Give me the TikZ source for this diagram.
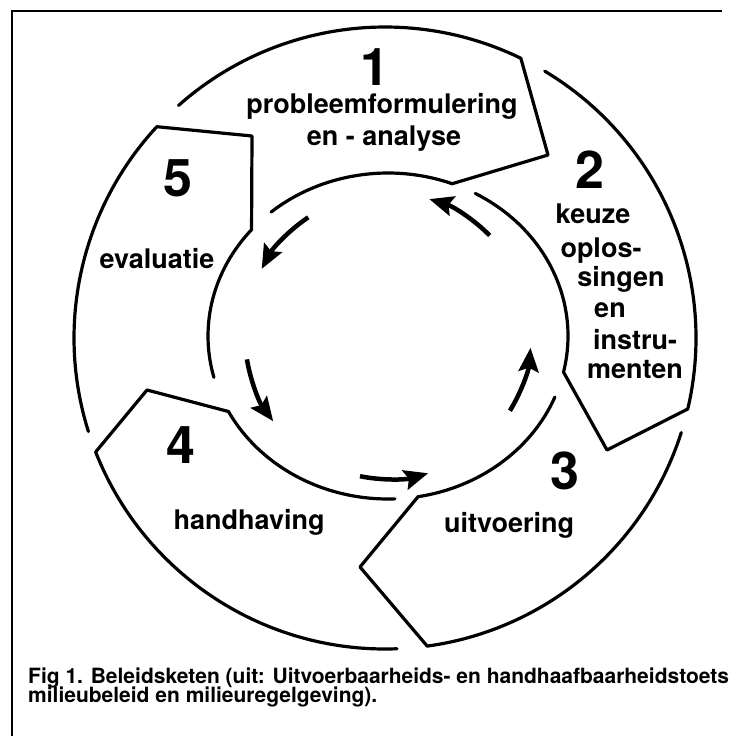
\documentclass[tikz,border=0pt]{standalone}
\usepackage{fontspec}
\setmainfont{TeX Gyre Heros}
\usetikzlibrary{arrows.meta}
\begin{document}
\begin{tikzpicture}[x=1pt,y=-1pt,
  seg/.style={line width=3.2pt,line join=round,line cap=round},
  flow/.style={line width=4.5pt,-{Stealth[length=24pt 0 0,width=20pt 0 0,inset=4pt 0]}},
  framer/.style={line width=2.2pt},
  lab/.style={font=\fontsize{27}{31}\selectfont\bfseries,anchor=base,inner sep=0pt},
  num/.style={font=\fontsize{52}{52}\selectfont\bfseries,anchor=base,inner sep=0pt},
  capt/.style={font=\fontsize{21}{19}\selectfont\bfseries,anchor=base west,inner sep=0pt}]
\useasboundingbox (0,0) rectangle (740,736);
\fill[white] (0,0) rectangle (740,736);
% frame
\draw[framer] (12,736) -- (12,11) -- (722,11);
% centres
\coordinate (O) at (385,338);
\coordinate (I) at (388,336);
% segment 1
\draw[seg] ([shift={(-131.6:311)}]O) arc[start angle=-131.6,end angle=-64.1,radius=311]
  -- (548,155) -- ([shift={(-69.1:180 and 163)}]I) arc[start angle=-69.1,end angle=-130.5,x radius=180,y radius=163];
% segment 2
\draw[seg] ([shift={(-59.1:311)}]O) arc[start angle=-59.1,end angle=13.2,radius=311]
  -- (607,450) -- ([shift={(12.8:180 and 163)}]I) arc[start angle=12.8,end angle=-61.0,x radius=180,y radius=163];
% segment 3
\draw[seg] ([shift={(17.7:311)}]O) arc[start angle=17.7,end angle=82.2,radius=311]
  -- (360,567) -- ([shift={(80.4:180 and 163)}]I) arc[start angle=80.4,end angle=22.0,x radius=180,y radius=163];
% segment 4
\draw[seg] ([shift={(87.8:311)}]O) arc[start angle=87.8,end angle=158.5,radius=311]
  -- (147,390) -- ([shift={(152.4:180 and 163)}]I) arc[start angle=152.4,end angle=87.8,x radius=180,y radius=163];
% segment 5
\draw[seg] ([shift={(162.5:311)}]O) arc[start angle=162.5,end angle=222.8,radius=311]
  -- (252,136) -- ([shift={(220.7:180 and 163)}]I) arc[start angle=220.7,end angle=165.3,x radius=180,y radius=163];
% inner arrows
\coordinate (a1) at ([shift={(-44.7:143)}]I);
\coordinate (a2) at ([shift={(-123.9:143)}]I);
\coordinate (a3) at ([shift={(170.6:143)}]I);
\coordinate (a4) at ([shift={(101.3:143)}]I);
\coordinate (a5) at ([shift={(31.5:143)}]I);
\draw[flow] (a1) arc[start angle=-44.7,end angle=-73.2,radius=143];
\draw[flow] (a2) arc[start angle=-123.9,end angle=-152.0,radius=143];
\draw[flow] (a3) arc[start angle=170.6,end angle=143.4,radius=143];
\draw[flow] (a4) arc[start angle=101.3,end angle=73.7,radius=143];
\draw[flow] (a5) arc[start angle=31.5,end angle=4.7,radius=143];
% labels
\node[num] (n1) at (375,85) {1};
\node[lab] (t1a) at (382,113) {probleemformulering};
\node[lab] (t1b) at (384,145) {en - analyse};
\node[num] (n2) at (590,188) {2};
\node[lab] (t2a) at (593,223) {keuze};
\node[lab] (t2b) at (601,257) {oplos-};
\node[lab] (t2c) at (621,286) {singen};
\node[lab] (t2d) at (610,317) {en};
\node[lab] (t2e) at (635,349) {instru-};
\node[lab] (t2f) at (635,378) {menten};
\node[num] (n3) at (565,489) {3};
\node[lab] (t3) at (509,532) {uitvoering};
\node[num] (n4) at (181,463) {4};
\node[lab] (t4) at (249,529) {handhaving};
\node[num] (n5) at (178,196) {5};
\node[lab] (t5) at (157,268) {evaluatie};
% caption
\node[capt] (c1) at (28,683) {Fig 1. Beleidsketen (uit: Uitvoerbaarheids- en handhaafbaarheidstoets};
\node[capt] (c2) at (28,702) {milieubeleid en milieuregelgeving).};
\end{tikzpicture}
\end{document}
